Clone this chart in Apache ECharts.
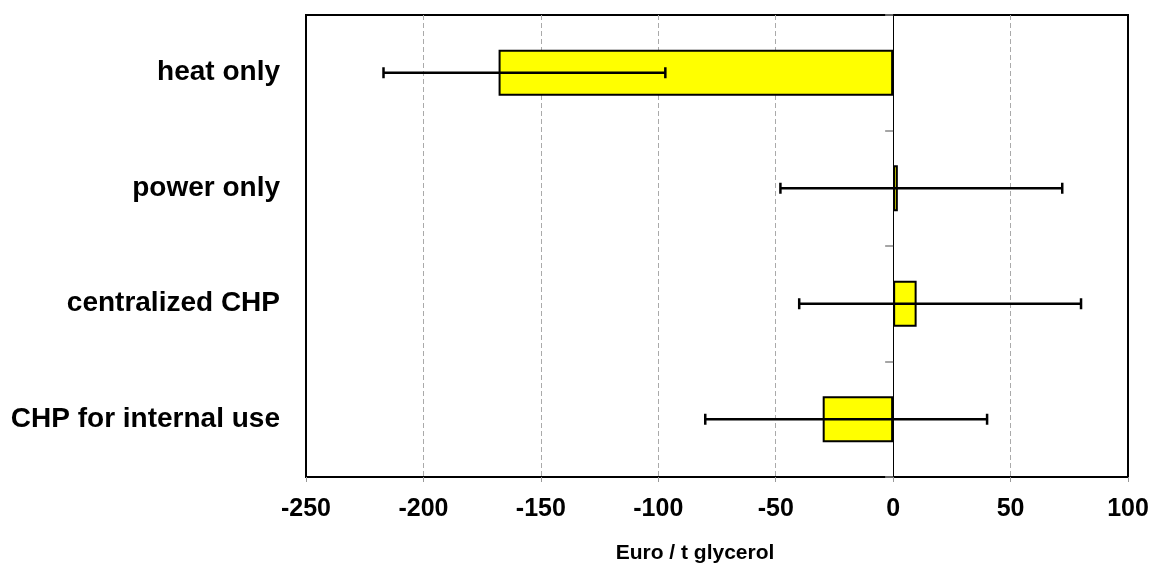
<!DOCTYPE html>
<html>
<head>
<meta charset="utf-8">
<script src="https://cdn.jsdelivr.net/npm/echarts@6/dist/echarts.min.js"></script>
<style>
  html, body { margin: 0; padding: 0; background: #fff; }
  #chart { width: 1158px; height: 563px; }
</style>
</head>
<body>
<div id="chart"></div>
<script>
// Cost per tonne of glycerol for each energy use option
const categories = ['heat only', 'power only', 'centralized CHP', 'CHP for internal use'];
const meanValues = [-168, 2, 10, -30];
const lowValues  = [-217, -48, -40, -80];
const highValues = [-97, 72, 80, 40];
const xTicks = [-250, -200, -150, -100, -50, 0, 50, 100];

const FONT = '"Liberation Sans", Arial, sans-serif';

const errorData = categories.map((c, i) => [i, lowValues[i], highValues[i]]);

const chart = echarts.init(document.getElementById('chart'));
chart.setOption({
  animation: false,
  grid: {
    left: 306, right: 30, top: 15, bottom: 86,
    outerBoundsMode: 'none',
    containLabel: false,
    show: true, borderColor: '#000', borderWidth: 2, backgroundColor: 'transparent'
  },
  xAxis: {
    type: 'value',
    min: xTicks[0],
    max: xTicks[xTicks.length - 1],
    interval: 50,
    name: 'Euro / t glycerol',
    nameLocation: 'middle',
    nameGap: 66,
    nameTextStyle: { fontFamily: FONT, fontWeight: 'bold', fontSize: 21, color: '#000', padding: [0, 44, 0, 0] },
    axisLine: { show: false },
    axisTick: { show: true, length: 5, lineStyle: { color: '#999', width: 1 } },
    axisLabel: { fontFamily: FONT, fontWeight: 'bold', fontSize: 25, color: '#000', margin: 20 },
    splitLine: {
      show: true, showMinLine: false, showMaxLine: false,
      lineStyle: { color: '#aaa', type: [5, 3], width: 1 }
    }
  },
  yAxis: [
    {
      type: 'category',
      data: categories,
      inverse: true,
      position: 'left',
      axisLine: { show: false, onZero: false },
      axisTick: { show: false },
      axisLabel: { fontFamily: FONT, fontWeight: 'bold', fontSize: 28, color: '#000', margin: 26, padding: [6, 0, 0, 0] },
      splitLine: { show: false }
    },
    {
      type: 'category',
      data: categories,
      inverse: true,
      position: 'left',
      axisLine: { show: true, onZero: true, lineStyle: { color: '#000', width: 1 } },
      axisTick: { show: true, length: 8, lineStyle: { color: '#888', width: 1.5 } },
      axisLabel: { show: false },
      splitLine: { show: false }
    }
  ],
  series: [
    {
      type: 'bar',
      data: meanValues,
      yAxisIndex: 0,
      barWidth: '40%',
      itemStyle: { color: '#ffff00', borderColor: '#000', borderWidth: 2 },
      z: 2
    },
    {
      type: 'custom',
      yAxisIndex: 0,
      data: errorData,
      encode: { x: [1, 2], y: 0 },
      z: 5,
      renderItem: function (params, api) {
        const cat = api.value(0);
        const lo = api.coord([api.value(1), cat]);
        const hi = api.coord([api.value(2), cat]);
        const half = 5.5;
        const style = { stroke: '#000', lineWidth: 2.5, fill: null };
        return {
          type: 'group',
          children: [
            { type: 'line', shape: { x1: lo[0], y1: lo[1], x2: hi[0], y2: hi[1] }, style: style },
            { type: 'line', shape: { x1: lo[0], y1: lo[1] - half, x2: lo[0], y2: lo[1] + half }, style: style },
            { type: 'line', shape: { x1: hi[0], y1: hi[1] - half, x2: hi[0], y2: hi[1] + half }, style: style }
          ]
        };
      }
    }
  ]
});
</script>
</body>
</html>
